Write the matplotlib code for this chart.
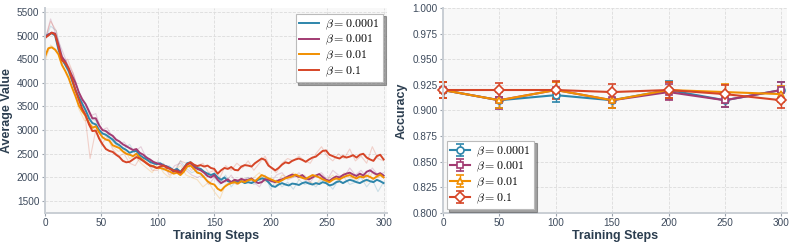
import numpy as np
import matplotlib

matplotlib.use("Agg")
import matplotlib.pyplot as plt

plt.rcParams["font.family"] = ["Liberation Sans", "DejaVu Sans"]
plt.rcParams["mathtext.fontset"] = "cm"

COLORS = ["#2E86AB", "#A23B72", "#F18F01", "#D64527"]
LABELS = [r"$\beta = 0.0001$", r"$\beta = 0.001$", r"$\beta = 0.01$", r"$\beta = 0.1$"]
TICK_C = "#3d4a5c"
LABEL_C = "#2c3e50"

# ---- left panel: average value over training (smoothed, every 3 steps) ----
val_b0001 = [4980, 5020, 5050, 5000, 4700, 4500, 4380, 4250, 4050, 3850, 3700, 3560, 3420, 3250, 3150,
             3120, 3000, 2930, 2900, 2850, 2800, 2720, 2680, 2620, 2580, 2520, 2550, 2560, 2470, 2420,
             2380, 2330, 2300, 2280, 2300, 2260, 2230, 2200, 2150, 2180, 2120, 2200, 2300, 2320, 2250,
             2200, 2180, 2120, 2080, 2050, 2080, 2000, 1950, 2000, 1920, 1900, 1930, 1900, 1920, 1880,
             1900, 1880, 1920, 1950, 1980, 1960, 1900, 1820, 1800, 1850, 1880, 1850, 1830, 1870, 1860,
             1840, 1880, 1900, 1870, 1850, 1880, 1860, 1900, 1880, 1830, 1850, 1900, 1920, 1880, 1920,
             1950, 1930, 1900, 1880, 1920, 1950, 1920, 1900, 1950, 1920, 1880]
val_b001 = [4950, 5020, 5060, 5040, 4800, 4550, 4450, 4300, 4150, 4000, 3800, 3650, 3550, 3400, 3250,
            3250, 3100, 3000, 2980, 2920, 2880, 2800, 2760, 2700, 2660, 2620, 2580, 2600, 2520, 2480,
            2420, 2380, 2330, 2300, 2280, 2250, 2230, 2180, 2120, 2150, 2100, 2180, 2280, 2300, 2220,
            2180, 2150, 2100, 2030, 2000, 2050, 1950, 1880, 1920, 1960, 1900, 1950, 1930, 1970, 1940,
            1950, 1980, 1920, 1880, 1900, 1960, 1950, 1920, 1900, 1940, 1960, 1990, 2030, 2060, 2040,
            2010, 2050, 1980, 1960, 2000, 2040, 2070, 2010, 1950, 1930, 1980, 2020, 2000, 2050, 2080,
            2100, 2060, 2030, 2080, 2040, 2120, 2150, 2100, 2060, 2090, 2040]
val_b01 = [4550, 4730, 4750, 4700, 4600, 4380, 4250, 4100, 3900, 3720, 3520, 3400, 3300, 3150, 3050,
           3080, 2950, 2850, 2800, 2780, 2680, 2650, 2620, 2550, 2500, 2480, 2450, 2500, 2420, 2360,
           2300, 2250, 2240, 2200, 2200, 2180, 2150, 2120, 2080, 2100, 2050, 2120, 2230, 2250, 2180,
           2100, 2080, 2000, 1920, 1870, 1850, 1760, 1720, 1800, 1850, 1880, 1900, 1870, 1920, 1900,
           1940, 1960, 1920, 1980, 2050, 2020, 1980, 1950, 1920, 1900, 1940, 1980, 2000, 2020, 2060,
           2030, 1990, 1970, 2010, 2050, 2030, 2000, 1960, 1930, 1900, 1950, 1980, 1960, 2000, 2030,
           2050, 2010, 1980, 2020, 2000, 2040, 2010, 1970, 2020, 2060, 2000]
val_b1 = [4950, 5000, 5060, 5020, 4750, 4480, 4420, 4300, 4080, 3850, 3650, 3450, 3320, 3120, 2980,
          2990, 2820, 2700, 2600, 2560, 2540, 2480, 2430, 2350, 2320, 2330, 2380, 2430, 2400, 2350,
          2300, 2250, 2230, 2200, 2230, 2250, 2200, 2180, 2150, 2120, 2100, 2200, 2280, 2320, 2270,
          2240, 2260, 2230, 2250, 2200, 2180, 2080, 2150, 2200, 2180, 2220, 2160, 2150, 2230, 2260,
          2250, 2230, 2300, 2350, 2400, 2370, 2250, 2200, 2150, 2200, 2270, 2320, 2300, 2350, 2380,
          2400, 2370, 2330, 2380, 2420, 2440, 2500, 2560, 2570, 2480, 2450, 2420, 2400, 2450, 2420,
          2440, 2470, 2420, 2480, 2500, 2420, 2380, 2350, 2450, 2480, 2380]

# raw (unsmoothed) values, every 5 steps
raw_b0001 = [4900, 5200, 5100, 4600, 4300, 4050, 3600, 3500, 3250, 3200, 2900, 2950, 2750, 2650, 2600,
             2700, 2500, 2350, 2450, 2200, 2350, 2150, 2250, 2100, 2350, 2200, 2100, 2150, 2000, 2100,
             2000, 1850, 2050, 1800, 1950, 1900, 2000, 1850, 1900, 2050, 1750, 1950, 1800, 1900, 1750,
             1950, 1850, 1900, 1800, 1950, 1900, 1750, 1950, 2000, 1850, 1900, 2000, 1800, 1950, 1700, 1900]
raw_b001 = [4900, 5350, 5000, 4700, 4400, 4200, 3800, 3600, 3300, 3350, 3000, 3050, 2850, 2700, 2750,
            2600, 2550, 2650, 2400, 2250, 2300, 2200, 2100, 2250, 2300, 2150, 2050, 2000, 2050, 1850,
            2000, 1950, 1900, 2050, 1850, 1950, 2000, 1900, 1800, 2000, 1900, 2050, 2100, 1950, 2000,
            2100, 1950, 1900, 2050, 2100, 1950, 2150, 2050, 2000, 2200, 2050, 2150, 2000, 2200, 2050, 2100]
raw_b01 = [4450, 4800, 4700, 4500, 4250, 3950, 3450, 3200, 3200, 2950, 2800, 2900, 2650, 2550, 2600,
           2400, 2450, 2300, 2200, 2100, 2300, 2100, 2000, 2150, 2250, 2050, 2000, 1950, 1800, 1900,
           1700, 1550, 1850, 1900, 1850, 1950, 1900, 2000, 2100, 1900, 2000, 1850, 2050, 2000, 2100,
           1950, 2050, 1900, 1850, 2000, 1950, 2050, 1900, 2100, 2000, 1950, 2050, 1900, 2100, 2000, 2050]
raw_b1 = [4900, 5300, 5100, 4400, 4500, 4200, 3800, 3400, 2400, 3000, 2700, 2850, 2600, 2450, 2500,
          2300, 2250, 2450, 2350, 2150, 2150, 2300, 2050, 2150, 2350, 2300, 2150, 2250, 2300, 2100,
          2150, 2000, 2250, 2150, 2300, 2200, 2350, 2150, 2300, 2450, 2200, 2100, 2300, 2400, 2350,
          2450, 2350, 2300, 2500, 2650, 2450, 2350, 2500, 2400, 2600, 2350, 2450, 2300, 2650, 2400, 2350]

# ---- right panel: accuracy at checkpoints ----
eval_steps = [0, 50, 100, 150, 200, 250, 300]
acc_b0001 = [0.920, 0.910, 0.915, 0.910, 0.920, 0.910, 0.920]
acc_b001 = [0.920, 0.910, 0.920, 0.910, 0.918, 0.910, 0.920]
acc_b01 = [0.920, 0.910, 0.920, 0.910, 0.920, 0.918, 0.916]
acc_b1 = [0.920, 0.920, 0.920, 0.918, 0.920, 0.916, 0.910]
err_b0001 = [0.008, 0.008, 0.007, 0.008, 0.009, 0.007, 0.008]
err_b001 = [0.008, 0.009, 0.008, 0.008, 0.008, 0.007, 0.008]
err_b01 = [0.008, 0.008, 0.008, 0.008, 0.008, 0.008, 0.008]
err_b1 = [0.008, 0.007, 0.009, 0.008, 0.008, 0.009, 0.008]

smooth = [val_b0001, val_b001, val_b01, val_b1]
raw = [raw_b0001, raw_b001, raw_b01, raw_b1]
accs = [acc_b0001, acc_b001, acc_b01, acc_b1]
errs = [err_b0001, err_b001, err_b01, err_b1]
markers = ["o", "s", "^", "D"]


def style_axes(ax):
    ax.set_facecolor("#f8f8f8")
    ax.grid(True, linestyle="--", color="#dcdcdc", linewidth=0.6)
    ax.set_axisbelow(True)
    for side in ("top", "right"):
        ax.spines[side].set_visible(False)
    for side in ("left", "bottom"):
        ax.spines[side].set_color("#c9ced4")
        ax.spines[side].set_linewidth(1.4)
    ax.tick_params(colors="#9aa3ad", labelcolor=TICK_C, labelsize=7.2, length=2.5, width=0.8, pad=1.5)


def make_legend(ax, **kw):
    leg = ax.legend(fontsize=8.6, frameon=True, fancybox=False, shadow=True,
                    borderpad=0.3, labelspacing=0.12, handlelength=1.7, handletextpad=0.5,
                    borderaxespad=0.3, **kw)
    leg.get_frame().set_edgecolor("#bbbbbb")
    leg.get_frame().set_facecolor("white")
    leg.get_frame().set_alpha(1.0)
    leg.get_frame().set_linewidth(0.8)
    return leg


fig = plt.figure(figsize=(7.93, 2.45), dpi=100)
fig.patch.set_facecolor("white")

ax1 = fig.add_axes([0.0567, 0.131, 0.4313, 0.836])
style_axes(ax1)
for vals, rvals, color, label in zip(smooth, raw, COLORS, LABELS):
    x_raw = np.linspace(0, 300, len(rvals))
    ax1.plot(x_raw, rvals, color=color, alpha=0.22, linewidth=0.8)
for vals, color, label in zip(smooth, COLORS, LABELS):
    x = np.linspace(0, 300, len(vals))
    ax1.plot(x, vals, color=color, linewidth=1.4, label=label)
ax1.set_xlim(0, 303)
ax1.set_ylim(1250, 5580)
ax1.set_yticks(np.arange(1500, 5501, 500))
ax1.set_xticks([0, 50, 100, 150, 200, 250, 300])
ax1.set_xlabel("Training Steps", fontsize=9, fontweight="bold", color=LABEL_C, labelpad=1)
ax1.set_ylabel("Average Value", fontsize=9, fontweight="bold", color=LABEL_C, labelpad=3)
make_legend(ax1, loc="upper right", bbox_to_anchor=(1.0, 0.99))

ax2 = fig.add_axes([0.5586, 0.131, 0.4338, 0.836])
style_axes(ax2)
for acc, err, color, marker, label in zip(accs, errs, COLORS, markers, LABELS):
    ax2.errorbar(eval_steps, acc, yerr=err, color=color, marker=marker, markersize=5,
                 markerfacecolor="white", markeredgecolor=color, markeredgewidth=1.2,
                 linewidth=1.5, elinewidth=1.0, capsize=3, capthick=1.0, label=label,
                 clip_on=False)
ax2.set_xlim(0, 305)
ax2.set_ylim(0.8, 1.0)
ax2.set_yticks(np.arange(0.800, 1.0001, 0.025))
ax2.yaxis.set_major_formatter(matplotlib.ticker.FormatStrFormatter("%.3f"))
ax2.set_xticks([0, 50, 100, 150, 200, 250, 300])
ax2.set_xlabel("Training Steps", fontsize=9, fontweight="bold", color=LABEL_C, labelpad=1)
ax2.set_ylabel("Accuracy", fontsize=9, fontweight="bold", color=LABEL_C, labelpad=3)
make_legend(ax2, loc="lower left", bbox_to_anchor=(0.0, 0.0))

fig.savefig("out.png", dpi=100)
